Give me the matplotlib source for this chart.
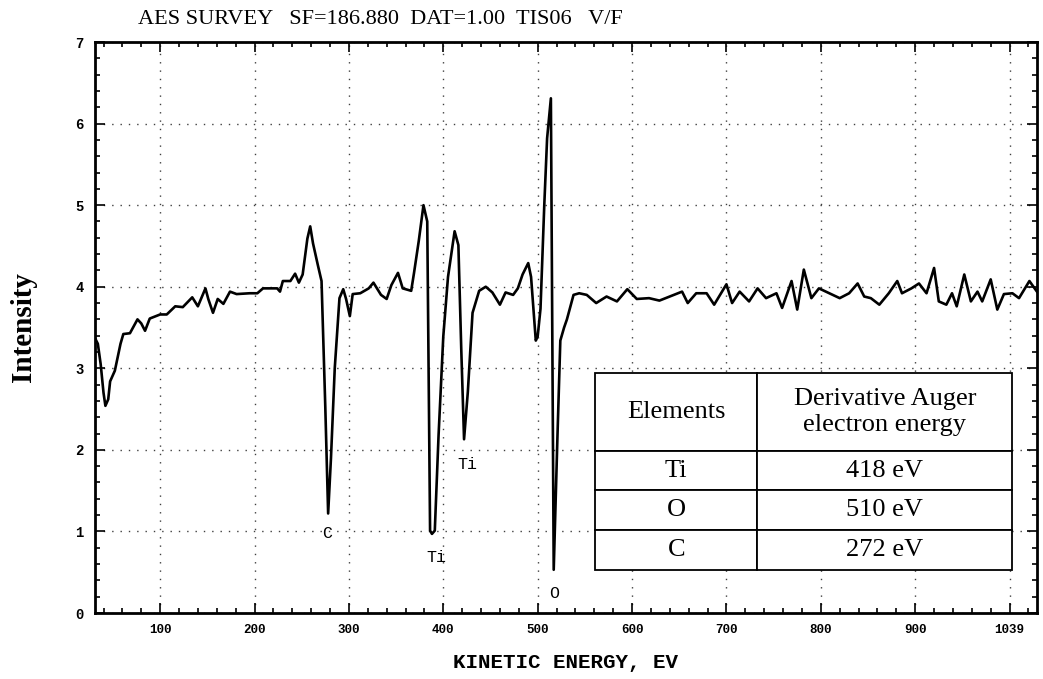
import matplotlib.pyplot as plt
from matplotlib.ticker import MultipleLocator

# spectrum (kinetic energy in eV, intensity)
energy = [31, 34, 37, 40, 42, 45, 47, 52, 58, 61, 68, 76, 80, 84, 89, 100, 107, 116, 124, 134,
          140, 148, 151, 156, 161, 167, 174, 181, 195, 203, 209, 224, 227, 230, 238, 243, 247, 251,
          256, 259, 262, 267, 271, 275, 278, 281, 285, 290, 294, 297, 301, 304, 312, 321, 326, 334,
          340, 345, 352, 357, 366, 369, 374, 379, 383, 386, 388, 391, 395, 400, 405, 412, 416, 419,
          422, 426, 431, 438, 445, 452, 460, 466, 474, 479, 484, 490, 493, 498, 500, 503, 507, 510,
          514, 517, 521, 524, 528, 531, 538, 544, 552, 562, 573, 584, 595, 605, 618, 629, 640, 653,
          659, 668, 679, 687, 700, 706, 714, 724, 733, 742, 753, 759, 769, 775, 782, 790, 798, 809,
          820, 830, 839, 846, 853, 862, 872, 881, 886, 896, 904, 912, 920, 925, 933, 939, 944, 952,
          959, 966, 971, 980, 987, 994, 1003, 1010, 1021, 1029]
intensity = [3.37, 3.30, 3.05, 2.70, 2.54, 2.62, 2.84, 2.97, 3.30, 3.42, 3.43, 3.60, 3.55, 3.46,
             3.61, 3.66, 3.66, 3.76, 3.75, 3.87, 3.76, 3.98, 3.85, 3.68, 3.85, 3.79, 3.94, 3.91,
             3.92, 3.92, 3.98, 3.98, 3.94, 4.07, 4.07, 4.16, 4.05, 4.15, 4.59, 4.74, 4.53, 4.27,
             4.07, 2.52, 1.22, 1.90, 3.00, 3.86, 3.97, 3.85, 3.64, 3.91, 3.92, 3.98, 4.05, 3.90,
             3.85, 4.02, 4.17, 3.98, 3.95, 4.17, 4.56, 5.00, 4.80, 1.01, 0.97, 1.01, 2.18, 3.39,
             4.12, 4.68, 4.51, 3.25, 2.13, 2.71, 3.68, 3.95, 4.00, 3.93, 3.78, 3.93, 3.90, 3.98,
             4.15, 4.29, 4.12, 3.34, 3.39, 3.73, 5.00, 5.82, 6.31, 0.53, 2.18, 3.34, 3.50, 3.60,
             3.90, 3.92, 3.90, 3.80, 3.88, 3.82, 3.97, 3.85, 3.86, 3.83, 3.88, 3.94, 3.80, 3.92,
             3.92, 3.78, 4.03, 3.80, 3.94, 3.82, 3.98, 3.86, 3.92, 3.74, 4.07, 3.72, 4.21, 3.86,
             3.98, 3.92, 3.86, 3.92, 4.04, 3.88, 3.86, 3.78, 3.92, 4.07, 3.92, 3.98, 4.04, 3.92,
             4.23, 3.82, 3.78, 3.92, 3.76, 4.15, 3.82, 3.94, 3.82, 4.09, 3.72, 3.91, 3.92, 3.86,
             4.07, 3.94]

x_ticks = [100, 200, 300, 400, 500, 600, 700, 800, 900, 1000]
x_labels = ["100", "200", "300", "400", "500", "600", "700", "800", "900", "1039"]
y_ticks = [0, 1, 2, 3, 4, 5, 6, 7]

peak_names = ["C", "Ti", "Ti", "O"]
peak_e = [277, 393, 426, 517]
peak_i = [0.97, 0.68, 1.82, 0.24]

table_header = ["Elements", "Derivative Auger\nelectron energy"]
table_elements = ["Ti", "O", "C"]
table_energies = ["418 eV", "510 eV", "272 eV"]

fig = plt.figure(figsize=(10.43, 6.79), dpi=100)
ax = fig.add_axes([0.0911, 0.0972, 0.9031, 0.8409])

ax.plot(energy, intensity, color="black", lw=1.9)

ax.set_xlim(31, 1029)
ax.set_ylim(0, 7)
ax.set_xticks(x_ticks)
ax.set_xticklabels(x_labels, family="Liberation Mono", fontweight="bold", fontsize=9)
ax.set_yticks(y_ticks)
ax.set_yticklabels([str(v) for v in y_ticks], family="Liberation Mono", fontweight="bold", fontsize=10)
ax.xaxis.set_minor_locator(MultipleLocator(20))
ax.yaxis.set_minor_locator(MultipleLocator(0.2))
ax.tick_params(which="both", direction="in", top=True, right=True, width=1.2)
ax.tick_params(which="major", length=7, pad=8)
ax.tick_params(which="minor", length=3.5)
for s in ax.spines.values():
    s.set_linewidth(2)

ax.grid(True, which="major", color="0.25", ls=(0, (1, 5)), lw=1)

ax.set_xlabel("KINETIC ENERGY, EV", family="Liberation Mono", fontweight="bold", fontsize=15, labelpad=12)
ax.set_ylabel("Intensity", family="Liberation Serif", fontweight="bold", fontsize=21, labelpad=28)
fig.text(0.365, 0.972, "AES SURVEY   SF=186.880  DAT=1.00  TIS06   V/F",
         family="Liberation Serif", fontsize=16, ha="center", va="center")

for name, e, i in zip(peak_names, peak_e, peak_i):
    ax.text(e, i, name, family="Liberation Mono", fontsize=12, ha="center", va="center")

rows = [[el, en] for el, en in zip(table_elements, table_energies)]
tbl = ax.table(cellText=rows, colLabels=table_header, cellLoc="center",
               colWidths=[0.172, 0.270], bbox=[0.531, 0.0753, 0.4427, 0.345], zorder=5)
tbl.auto_set_font_size(False)
for (r, c), cell in tbl.get_celld().items():
    cell.set_linewidth(1.3)
    cell.get_text().set_fontfamily("Liberation Serif")
    cell.get_text().set_fontsize(19)
    cell.set_height(0.39 if r == 0 else 0.2)

fig.savefig("out.png", dpi=100)
